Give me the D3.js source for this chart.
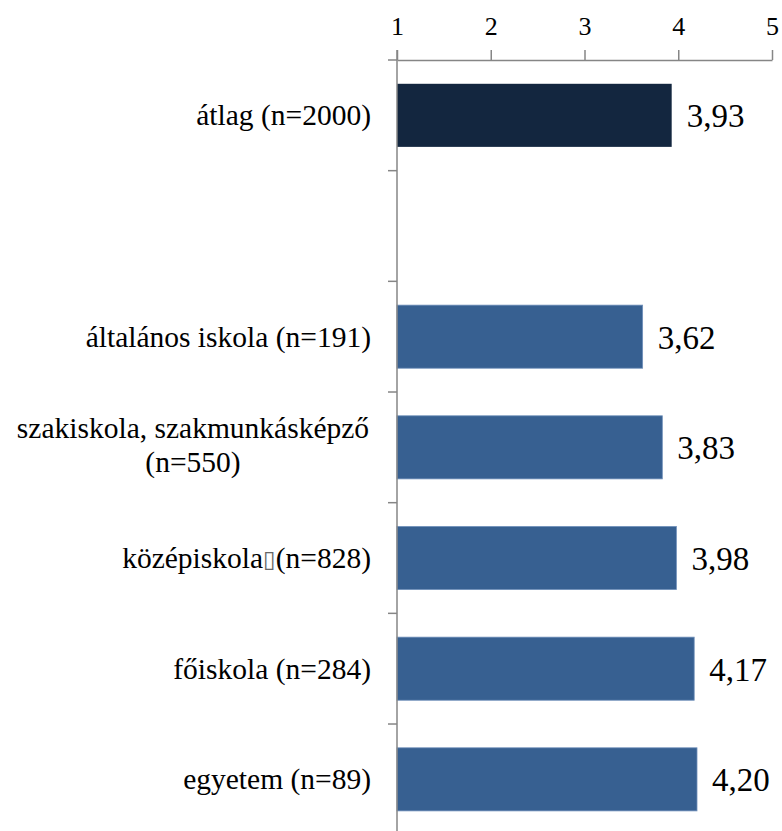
<!DOCTYPE html>
<html><head><meta charset="utf-8">
<script src="https://cdn.jsdelivr.net/npm/d3@7"></script>
<style>body{margin:0;background:#fff;} svg{display:block;}</style>
</head><body>
<script>
const categories = ["átlag (n=2000)", "", "általános iskola (n=191)", "szakiskola, szakmunkásképző|(n=550)", "középiskola|BOX|(n=828)", "főiskola (n=284)", "egyetem (n=89)"];
const values = [3.93, null, 3.62, 3.83, 3.98, 4.17, 4.20];
const barColors = ["#13263f", null, "#376091", "#376091", "#376091", "#376091", "#376091"];
const tickValues = [1, 2, 3, 4, 5];

const W = 782, H = 831;
const svg = d3.select("body").append("svg").attr("width", W).attr("height", H);
const x = d3.scaleLinear().domain([1, 5]).range([397, 772]);
const y = d3.scaleBand().domain(d3.range(categories.length)).range([60, 60 + 7 * 110.67])
  .paddingInner(0.43).paddingOuter(0.215);
const fmt = d3.formatLocale({decimal: ",", thousands: " ", grouping: [3], currency: ["", ""]}).format(".2f");
const axisColor = "#868686";
const serif = "Liberation Serif";
const labelSize = 29.5;

// bars
const data = values.map((v, i) => ({i, v})).filter(d => d.v != null);
svg.selectAll("rect.bar").data(data).enter().append("rect")
  .attr("x", x(1)).attr("y", d => y(d.i))
  .attr("width", d => x(d.v) - x(1)).attr("height", y.bandwidth())
  .attr("fill", d => barColors[d.i])
  .attr("stroke", d => d.i === 0 ? "none" : "#6f8fba").attr("stroke-width", 0.8);

// value labels
svg.selectAll("text.val").data(data).enter().append("text")
  .attr("x", d => x(d.v) + 15).attr("y", d => y(d.i) + y.bandwidth() / 2 + 12)
  .attr("font-family", serif).attr("font-size", 33).attr("fill", "#000")
  .text(d => fmt(d.v));

// x axis (top)
const xAxis = svg.append("g").attr("transform", "translate(0,60)")
  .call(d3.axisTop(x).tickValues(tickValues).tickFormat(d3.format("d")).tickSize(10).tickSizeOuter(0).tickPadding(15));
xAxis.attr("font-family", serif);
xAxis.select(".domain").attr("stroke", axisColor).attr("stroke-width", 1.5);
xAxis.selectAll(".tick line").attr("stroke", axisColor).attr("stroke-width", 1.5);
xAxis.selectAll(".tick text").attr("font-family", serif).attr("font-size", 26).attr("fill", "#000");

// y axis
const step = y.step(), gap = step * y.paddingInner();
const bounds = d3.range(categories.length + 1).map(k => k < categories.length ? y(k) - gap / 2 : y(k - 1) + y.bandwidth() + gap / 2);
const yAxis = svg.append("g");
yAxis.append("line").attr("x1", x(1)).attr("x2", x(1)).attr("y1", 50).attr("y2", H + 5)
  .attr("stroke", axisColor).attr("stroke-width", 1.5);
yAxis.selectAll("line.tk").data(bounds).enter().append("line")
  .attr("x1", x(1) - 9).attr("x2", x(1)).attr("y1", d => d).attr("y2", d => d)
  .attr("stroke", axisColor).attr("stroke-width", 1.5);

// category labels
categories.forEach((c, i) => {
  if (!c) return;
  const cy = y(i) + y.bandwidth() / 2;
  const parts = c.split("|");
  if (parts.length === 3 && parts[1] === "BOX") {
    const t = svg.append("text").attr("x", 371).attr("y", cy + 10).attr("text-anchor", "end")
      .attr("font-family", serif).attr("font-size", labelSize).attr("fill", "#000");
    t.append("tspan").text(parts[0]);
    t.append("tspan").attr("font-family", "DejaVu Sans").attr("font-size", 23).attr("fill", "#666").attr("dy", -1).text("\u25AF");
    t.append("tspan").attr("dy", 1).text(parts[2]);
  } else if (parts.length === 2) {
    const t = svg.append("text").attr("text-anchor", "middle")
      .attr("font-family", serif).attr("font-size", labelSize).attr("fill", "#000");
    t.append("tspan").attr("x", 193).attr("y", cy - 9).text(parts[0]);
    t.append("tspan").attr("x", 193).attr("y", cy + 25).text(parts[1]);
  } else {
    svg.append("text").attr("x", 371).attr("y", cy + 10).attr("text-anchor", "end")
      .attr("font-family", serif).attr("font-size", labelSize).attr("fill", "#000").text(c);
  }
});
</script>
</body></html>
